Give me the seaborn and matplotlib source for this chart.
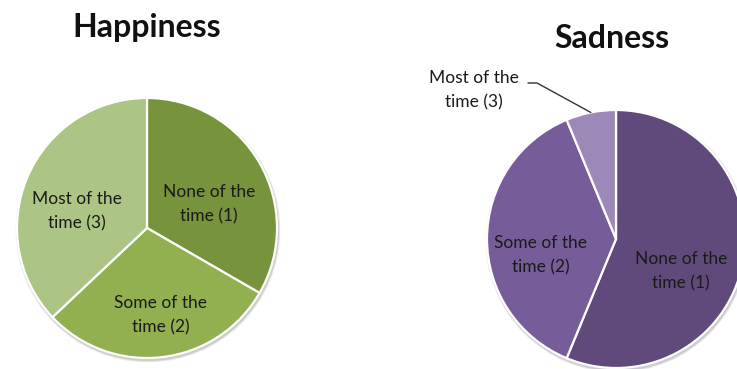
import numpy as np
import matplotlib
matplotlib.use("Agg")
import matplotlib.pyplot as plt
import matplotlib.patches as mpatches
import seaborn as sns

# Survey responses: how often each feeling was reported
categories = ["None of the time (1)", "Some of the time (2)", "Most of the time (3)"]
slice_labels = ["None of the\ntime (1)", "Some of the\ntime (2)", "Most of the\ntime (3)"]
happiness_counts = [9, 8, 10]
sadness_counts = [9, 6, 1]
chart_titles = ["Happiness", "Sadness"]

green_colors = ["#77933C", "#92B050", "#ADC584"]
purple_colors = ["#604A7B", "#775C9A", "#9D89B7"]

sns.set_theme(style="white")
plt.rcParams["font.family"] = ["Lato", "DejaVu Sans"]

W, H = 737, 369
fig = plt.figure(figsize=(W / 100, H / 100), dpi=100)
ax = fig.add_axes([0, 0, 1, 1])

LABEL_SIZE = 12.5
LINE_SPACING = 1.6
pies = [
    dict(values=happiness_counts, colors=green_colors, center=(147, H - 228),
         radius=130, title_xy=(147, H - 27),
         label_xy=[(209, H - 204), (161, H - 315), (77, H - 211)]),
    dict(values=sadness_counts, colors=purple_colors, center=(616, H - 239),
         radius=129, title_xy=(612, H - 39),
         label_xy=[(681, H - 271), (541, H - 255), None]),
]

for spec, title in zip(pies, chart_titles):
    cx, cy = spec["center"]
    R = spec["radius"]
    # soft drop shadow under the pie
    for k, a in zip([5, 3.5, 2], [0.05, 0.07, 0.09]):
        ax.add_patch(mpatches.Circle((cx + 1, cy - 2), R + k * 0.5, color="#000000",
                                     alpha=a, lw=0, zorder=0))
    wedges, _ = ax.pie(spec["values"], colors=spec["colors"], startangle=90,
                       counterclock=False, center=(cx, cy), radius=R,
                       wedgeprops=dict(edgecolor="white", linewidth=1.6),
                       frame=True)
    for w in wedges:
        w.set_zorder(2)
    for lab, xy in zip(slice_labels, spec["label_xy"]):
        if xy is None:
            continue
        ax.text(xy[0], xy[1], lab, ha="center", va="center", fontsize=LABEL_SIZE,
                color="#1a1a1a", linespacing=LINE_SPACING, zorder=3)
    ax.text(spec["title_xy"][0], spec["title_xy"][1], title, ha="center",
            va="center", fontsize=23, fontweight="bold", color="#111111", zorder=3)

# outside label with leader line for the smallest sadness slice
small = pies[1]
cx, cy = small["center"]
R = small["radius"]
w = wedges[2]
mid = np.deg2rad((w.theta1 + w.theta2) / 2)
tip = (cx + R * np.cos(mid), cy + R * np.sin(mid))
ax.plot([528, 537, tip[0]], [H - 83, H - 83, tip[1]], color="#333333", lw=1.0,
        zorder=3)
ax.text(474, H - 90, slice_labels[2], ha="center", va="center", fontsize=LABEL_SIZE,
        color="#1a1a1a", linespacing=LINE_SPACING, zorder=3)

ax.set_xlim(0, W)
ax.set_ylim(0, H)
ax.set_aspect("equal")
ax.axis("off")

fig.savefig("out.png", dpi=100, facecolor="white")
